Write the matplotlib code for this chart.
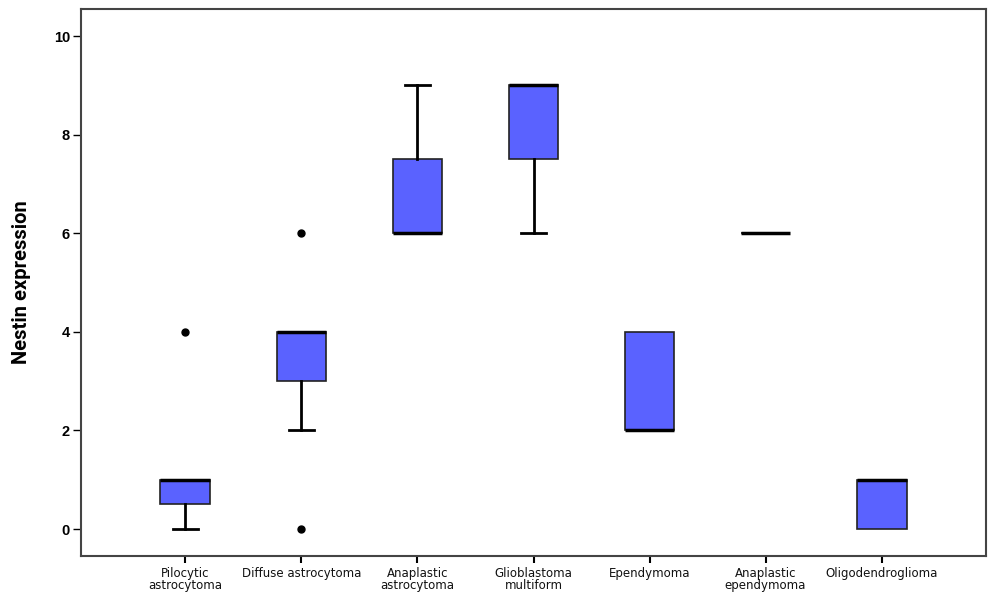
import matplotlib
matplotlib.use("Agg")
import matplotlib.pyplot as plt

# ---------- Data ----------
categories = [
    "Pilocytic\nastrocytoma", "Diffuse astrocytoma", "Anaplastic\nastrocytoma",
    "Glioblastoma\nmultiform", "Ependymoma", "Anaplastic\nependymoma",
    "Oligodendroglioma",
]
q1 = [0.5, 3.0, 6.0, 7.5, 2.0, 6.0, 0.0]
medians = [1.0, 4.0, 6.0, 9.0, 2.0, 6.0, 1.0]
q3 = [1.0, 4.0, 7.5, 9.0, 4.0, 6.0, 1.0]
whisker_low = [0.0, 2.0, 6.0, 6.0, 2.0, 6.0, 0.0]
whisker_high = [1.0, 4.0, 9.0, 9.0, 4.0, 6.0, 1.0]
outliers = [[4.0], [6.0, 0.0], [], [], [], [], []]

y_ticks = [0, 2, 4, 6, 8, 10]

# ---------- Plot ----------
fig = plt.figure(figsize=(10, 6), dpi=100)
ax = fig.add_axes([0.081, 0.073, 0.905, 0.912])

stats = []
for i in range(len(categories)):
    stats.append({
        "q1": q1[i], "med": medians[i], "q3": q3[i],
        "whislo": whisker_low[i], "whishi": whisker_high[i],
        "fliers": outliers[i],
    })

positions = list(range(1, len(categories) + 1))
parts = ax.bxp(stats, positions=positions, widths=0.43, patch_artist=True,
               showfliers=True,
               boxprops=dict(facecolor="#5A62FF", edgecolor="#222222", linewidth=1.2),
               medianprops=dict(color="black", linewidth=2.5),
               whiskerprops=dict(color="black", linewidth=2.0),
               capprops=dict(color="black", linewidth=2.0),
               capwidths=0.22,
               flierprops=dict(marker="o", markerfacecolor="black",
                               markeredgecolor="black", markersize=5))

# SPSS-style: no cap where the whisker has zero length
for i in range(len(categories)):
    if whisker_low[i] == q1[i]:
        parts["caps"][2 * i].set_visible(False)
        parts["whiskers"][2 * i].set_visible(False)
    if whisker_high[i] == q3[i]:
        parts["caps"][2 * i + 1].set_visible(False)
        parts["whiskers"][2 * i + 1].set_visible(False)

ax.set_xlim(0.1, 7.9)
ax.set_ylim(-0.55, 10.55)
ax.set_xticks(positions)
ax.set_xticklabels(categories, fontsize=8.5, fontfamily="DejaVu Sans",
                   color="#111111", linespacing=0.85)
ax.set_yticks(y_ticks)
ax.set_yticklabels([str(v) for v in y_ticks], fontsize=10.5, fontweight="bold",
                   fontfamily="Liberation Sans")
ax.tick_params(axis="x", length=5, width=1.5, pad=3)
ax.tick_params(axis="y", length=6, width=1.0, pad=2)

ax.set_ylabel("Nestin expression", fontsize=14.5, fontfamily="Roboto",
              fontweight="bold", labelpad=16)

for spine in ax.spines.values():
    spine.set_color("#444444")
    spine.set_linewidth(1.5)

fig.savefig("out.png", dpi=100, facecolor="white")
plt.close()
